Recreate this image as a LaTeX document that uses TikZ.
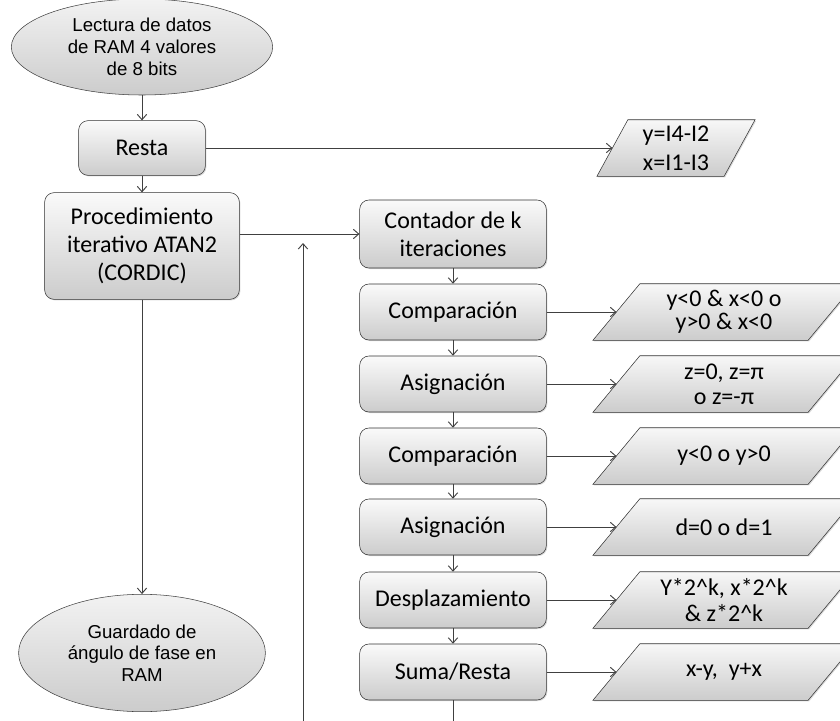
\documentclass[tikz,border=0pt]{standalone}
\usepackage{fontspec}
\setmainfont{Carlito}
\newfontfamily\arialfont{Liberation Sans}
\usetikzlibrary{shapes.geometric,arrows.meta,shadows,backgrounds}

\tikzset{
  paso/.style={draw=black!80, rounded corners=7pt, top color=gray!4,
    bottom color=gray!40, minimum width=140pt, minimum height=42pt,
    align=center, font=\fontsize{18}{21}\selectfont,
    drop shadow={shadow xshift=0.8pt, shadow yshift=-0.8pt, opacity=0.3}},
  extremo/.style={ellipse, draw=black!75, top color=gray!10,
    bottom color=gray!40, align=center,
    font=\arialfont\fontsize{14}{16.3}\selectfont},
  dato/.style={minimum width=161pt, minimum height=42pt,
    align=center, font=\fontsize{18}{17.5}\selectfont},
  marco/.style={draw=black!80, top color=gray!6, bottom color=gray!40,
    drop shadow={shadow xshift=0.8pt, shadow yshift=-0.8pt, opacity=0.3}},
  flecha/.style={->, draw=black!75, line width=0.7pt}
}

\begin{document}
\begin{tikzpicture}[x=0.75pt, y=-0.75pt,
  >={Straight Barb[length=4pt,width=7pt]},
  every node/.style={inner sep=2pt}]
\useasboundingbox (0,0) rectangle (840,721);

% columna izquierda
\node[extremo, minimum width=196pt, minimum height=72pt] (leer) at (142,47)
  {Lectura de datos\\de RAM 4 valores\\de 8 bits};
\node[paso, minimum width=95pt, minimum height=41pt] (resta) at (142,148) {Resta};
\node[paso, minimum width=146pt, minimum height=80pt] (atan) at (142,246)
  {Procedimiento\\iterativo ATAN2\\(CORDIC)};
\node[extremo, minimum width=185pt, minimum height=88pt] (guardar) at (142,653)
  {Guardado de\\ángulo de fase en\\RAM};
\node[dato, minimum width=95pt, font=\fontsize{18}{22}\selectfont] (xy) at (676,148)
  {y=I4-I2\\x=I1-I3};

% columna derecha
\node[paso, minimum height=51pt] (cont) at (453,234) {Contador de k\\iteraciones};
\node[paso] (compa) at (453,312) {Comparación};
\node[paso] (asiga) at (453,384) {Asignación};
\node[paso] (compb) at (453,456) {Comparación};
\node[paso] (asigb) at (453,527) {Asignación};
\node[paso] (despl) at (453,600) {Desplazamiento};
\node[paso] (suma) at (453,672) {Suma/Resta};

\node[dato] (signos) at (724,312) {y<0 \& x<0 o\\y>0 \& x<0};
\node[dato, font=\fontsize{18}{19}\selectfont] (zeta) at (724,384) {z=0, z=π\\o z=-π};
\node[dato] (ysigno) at (724,456) {y<0 o y>0};
\node[dato] (dval) at (724,527) {d=0 o d=1};
\node[dato, font=\fontsize{18}{20}\selectfont] (shift) at (724,600)
  {Y*2\textasciicircum k, x*2\textasciicircum k\\\& z*2\textasciicircum k};
\node[dato] (res) at (724,672) {x-y,\ \ y+x};

% paralelogramos detras del texto
\begin{pgfonlayer}{background}
\foreach \n/\s in {xy/11.6pt,signos/17.6pt,zeta/17.6pt,ysigno/17.6pt,
    dval/17.6pt,shift/17.6pt,res/17.6pt}
  \draw[marco] ([xshift=-\s]\n.south west) -- ([xshift=\s]\n.north west)
    -- ([xshift=\s]\n.north east) -- ([xshift=-\s]\n.south east) -- cycle;
\end{pgfonlayer}

\coordinate (salida) at (453,721);
\coordinate (vuelta) at (303,721);
\coordinate (vueltafin) at (303,243);

\draw[flecha] (leer) -- (resta);
\draw[flecha] (resta) -- (atan);
\draw[flecha] (resta) -- (xy);
\draw[flecha] (atan) -- (guardar);
\draw[flecha] (atan.east |- cont) -- (cont);

\draw[flecha] (cont) -- (compa);
\draw[flecha] (compa) -- (asiga);
\draw[flecha] (asiga) -- (compb);
\draw[flecha] (compb) -- (asigb);
\draw[flecha] (asigb) -- (despl);
\draw[flecha] (despl) -- (suma);

\draw[flecha] (compa) -- (signos);
\draw[flecha] (asiga) -- (zeta);
\draw[flecha] (compb) -- (ysigno);
\draw[flecha] (asigb) -- (dval);
\draw[flecha] (despl) -- (shift);
\draw[flecha] (suma) -- (res);

\draw[draw=black!75, line width=0.7pt] (suma) -- (salida);
\draw[flecha] (vuelta) -- (vueltafin);
\end{tikzpicture}
\end{document}
